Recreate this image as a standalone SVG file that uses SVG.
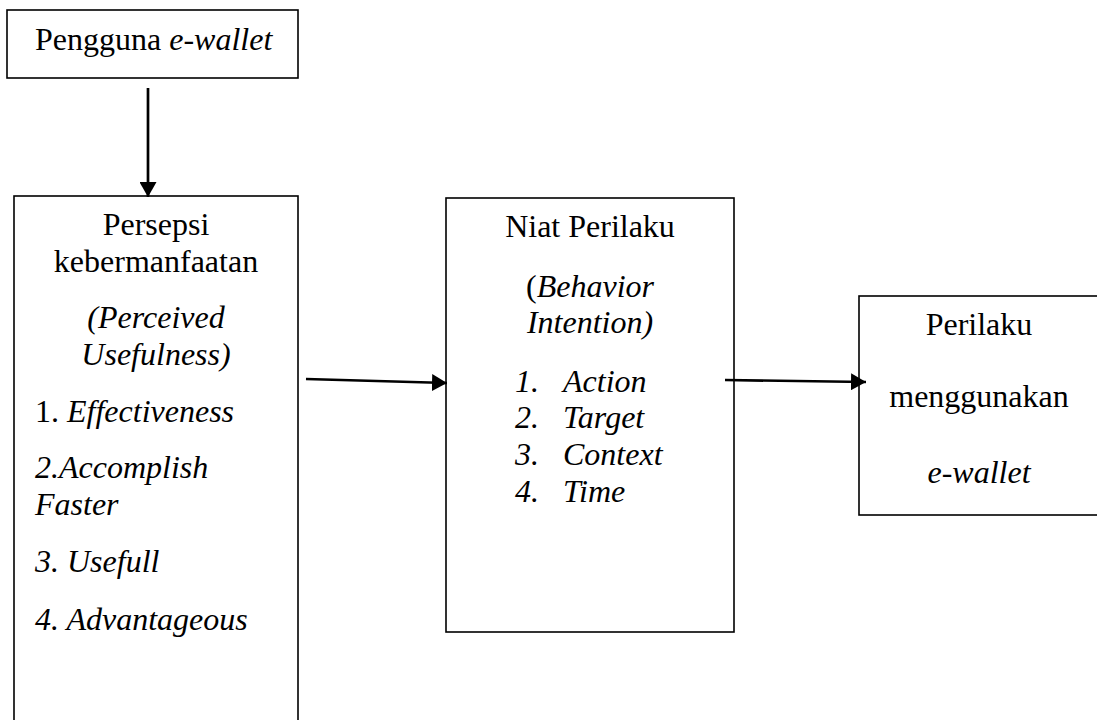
<svg xmlns="http://www.w3.org/2000/svg" width="1097" height="720" viewBox="0 0 1097 720">
<style>
.box{fill:#fff;stroke:#000;stroke-width:1.6}
.t{font-family:"Liberation Serif","Times New Roman",serif;font-size:32px;fill:#000}
.c{text-anchor:middle}
.i{font-style:italic}
.arr{stroke:#000;stroke-width:2.7;fill:none}
</style>
<defs>
<marker id="ah" viewBox="0 0 15 17" refX="15" refY="8.5" markerWidth="15" markerHeight="17" markerUnits="userSpaceOnUse" orient="auto">
<path d="M0,0 L15,8.5 L0,17 Z" fill="#000"/>
</marker>
</defs>
<rect width="1097" height="720" fill="#fff"/>
<g id="node-pengguna">
<rect class="box" x="7" y="10" width="291" height="68"/>
<text class="t" x="35" y="50">Pengguna <tspan class="i">e-wallet</tspan></text>
</g>
<g id="node-persepsi">
<rect class="box" x="14" y="196" width="284" height="540"/>
<text class="t c" x="156" y="235">Persepsi</text>
<text class="t c" x="156" y="272">kebermanfaatan</text>
<text class="t c i" x="156" y="328">(Perceived</text>
<text class="t c i" x="156" y="365">Usefulness)</text>
<text class="t" x="35" y="422">1. <tspan class="i">Effectiveness</tspan></text>
<text class="t i" x="35" y="478">2.Accomplish</text>
<text class="t i" x="35" y="515">Faster</text>
<text class="t i" x="35" y="572">3. Usefull</text>
<text class="t i" x="35" y="630">4. Advantageous</text>
</g>
<g id="node-niat">
<rect class="box" x="446" y="198" width="288" height="434"/>
<text class="t c" x="590" y="237">Niat Perilaku</text>
<text class="t c" x="590" y="297">(<tspan class="i">Behavior</tspan></text>
<text class="t c i" x="590" y="333">Intention)</text>
<text class="t i" x="515" y="392">1.</text><text class="t i" x="563" y="392">Action</text>
<text class="t i" x="515" y="428">2.</text><text class="t i" x="563" y="428">Target</text>
<text class="t i" x="515" y="465">3.</text><text class="t i" x="563" y="465">Context</text>
<text class="t i" x="515" y="502">4.</text><text class="t i" x="563" y="502">Time</text>
</g>
<g id="node-perilaku">
<rect class="box" x="859" y="296" width="250" height="219"/>
<text class="t c" x="979" y="335">Perilaku</text>
<text class="t c" x="979" y="407">menggunakan</text>
<text class="t c i" x="979" y="483">e-wallet</text>
</g>
<g id="connectors">
<line class="arr" x1="148" y1="88" x2="148" y2="197" marker-end="url(#ah)"/>
<line class="arr" x1="306" y1="379" x2="447" y2="383" marker-end="url(#ah)"/>
<line class="arr" x1="725" y1="380" x2="866" y2="382" marker-end="url(#ah)"/>
</g>
</svg>
